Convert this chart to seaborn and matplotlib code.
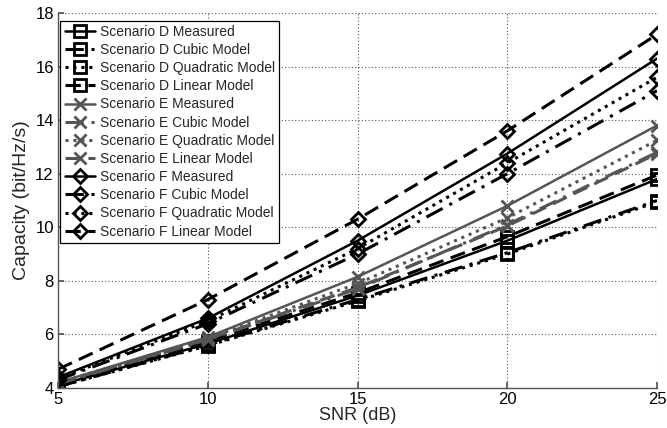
import matplotlib
matplotlib.use("Agg")
import matplotlib.pyplot as plt
import seaborn as sns
import pandas as pd

snr = [5, 10, 15, 20, 25]

d_measured = [4.10, 5.65, 7.45, 9.50, 11.80]
d_cubic = [4.05, 5.60, 7.30, 9.05, 11.00]
d_quadratic = [4.05, 5.58, 7.25, 9.00, 10.95]
d_linear = [4.15, 5.75, 7.55, 9.65, 11.95]

e_measured = [4.20, 5.90, 8.15, 10.80, 13.80]
e_cubic = [4.15, 5.80, 7.70, 10.10, 12.80]
e_quadratic = [4.20, 5.85, 7.90, 10.35, 13.25]
e_linear = [4.18, 5.82, 7.75, 10.05, 12.75]

f_measured = [4.40, 6.60, 9.50, 12.75, 16.30]
f_cubic = [4.30, 6.40, 9.00, 12.00, 15.10]
f_quadratic = [4.35, 6.50, 9.20, 12.40, 15.60]
f_linear = [4.70, 7.30, 10.30, 13.60, 17.20]

series = [
    ("Scenario D Measured", d_measured),
    ("Scenario D Cubic Model", d_cubic),
    ("Scenario D Quadratic Model", d_quadratic),
    ("Scenario D Linear Model", d_linear),
    ("Scenario E Measured", e_measured),
    ("Scenario E Cubic Model", e_cubic),
    ("Scenario E Quadratic Model", e_quadratic),
    ("Scenario E Linear Model", e_linear),
    ("Scenario F Measured", f_measured),
    ("Scenario F Cubic Model", f_cubic),
    ("Scenario F Quadratic Model", f_quadratic),
    ("Scenario F Linear Model", f_linear),
]

sns.set_theme(style="white")
plt.rcParams["font.family"] = ["Liberation Sans", "DejaVu Sans"]

fig = plt.figure(figsize=(6.67, 4.28), dpi=100)
ax = fig.add_axes([0.087, 0.0935, 0.898, 0.876])

styles = {
    "Measured": "-",
    "Cubic Model": (0, (6, 2.5, 1, 2.5)),
    "Quadratic Model": (0, (1, 1.6)),
    "Linear Model": (0, (5, 2.5)),
}
scen = {
    "D": ("s", "black", 8),
    "E": ("x", "#555555", 8.5),
    "F": ("D", "black", 7.5),
}

for name, vals in series:
    s = name.split()[1]
    kind = name.split(" ", 2)[2]
    marker, color, ms = scen[s]
    df = pd.DataFrame({"SNR": snr, "Capacity": vals})
    lw = 1.8 if kind == "Measured" else 2.2
    sns.lineplot(data=df, x="SNR", y="Capacity", ax=ax, label=name,
                 color=color, linestyle=styles[kind], linewidth=lw,
                 marker=marker, markersize=ms,
                 markerfacecolor="none" if marker != "x" else color,
                 markeredgecolor=color, markeredgewidth=2.0)

ax.set_xlim(5, 25)
ax.set_ylim(4, 18)
ax.set_xticks([5, 10, 15, 20, 25])
ax.set_yticks([4, 6, 8, 10, 12, 14, 16, 18])
ax.grid(True, color="#555555", linestyle=(0, (1, 2)), linewidth=0.8)
for sp in ["top", "right"]:
    ax.spines[sp].set_visible(False)
for sp in ["left", "bottom"]:
    ax.spines[sp].set_color("#555555")
    ax.spines[sp].set_linewidth(1.0)
ax.tick_params(direction="in", length=4, color="#555555", labelsize=12,
               labelcolor="black", left=True, bottom=True, pad=3)
ax.set_xlabel("SNR (dB)", fontsize=13, labelpad=0)
ax.set_ylabel("Capacity (bit/Hz/s)", fontsize=14, labelpad=4)

leg = ax.legend(loc="upper left", bbox_to_anchor=(0.004, 0.98), fontsize=10,
                frameon=True, fancybox=False, edgecolor="black",
                handlelength=2.2, handletextpad=0.35, labelspacing=0.3,
                borderpad=0.3, borderaxespad=0.0, framealpha=1)
leg.get_frame().set_linewidth(0.9)

fig.savefig("out.png", dpi=100)
